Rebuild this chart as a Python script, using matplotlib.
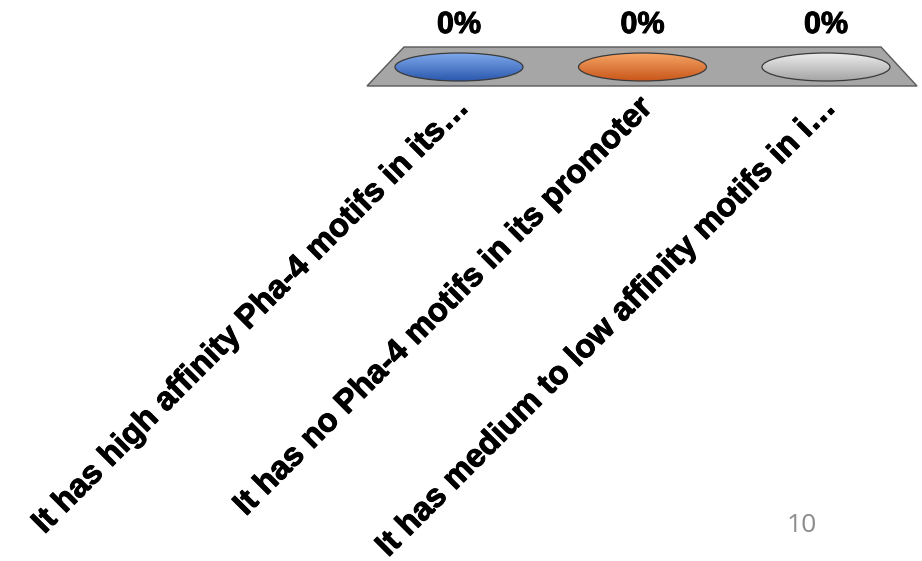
import numpy as np
import matplotlib.pyplot as plt
import matplotlib.patheffects as pe
from matplotlib.patches import Ellipse, Polygon

# data
categories = ["It has high affinity Pha-4 motifs in its\u2026",
              "It has no Pha-4 motifs in its promoter",
              "It has medium to low affinity motifs in i\u2026"]
values = [0, 0, 0]
pct_labels = ["0%", "0%", "0%"]
top_colors = ["#7ea9ec", "#f5a566", "#ececec"]
bottom_colors = ["#2c58ae", "#c9561a", "#a4a4a4"]
page_number = "10"

W, H = 922, 561
fig = plt.figure(figsize=(W / 100, H / 100), dpi=100)
ax = fig.add_axes([0, 0, 1, 1])
# category index -> pixel: 0 -> 459, 1 -> 642.5, 2 -> 826
step = 183.5
x0 = 459
ax.set_xlim(-x0 / step, (W - x0) / step)
ax.set_ylim(H, 0)
ax.axis("off")

px = lambda p: (p - x0) / step

# floor of the 3D chart
floor = Polygon([(px(367), 86), (px(917), 86), (px(881), 47), (px(404), 47)],
                closed=True, facecolor="#a6a6a6", edgecolor="#595959", lw=1.0, zorder=1)
ax.add_patch(floor)

ell_w = 128 / step
ell_h = 28
base_y = 67
heavy = [pe.withStroke(linewidth=0.7, foreground="black")]
for i, (v, tc, bc) in enumerate(zip(values, top_colors, bottom_colors)):
    yc = base_y - v
    e = Ellipse((i, yc), ell_w, ell_h, facecolor="none", edgecolor="#3a3a3a", lw=0.9, zorder=3)
    ax.add_patch(e)
    # vertical gradient inside the ellipse
    c1 = np.array(plt.matplotlib.colors.to_rgb(tc))
    c2 = np.array(plt.matplotlib.colors.to_rgb(bc))
    t = np.linspace(0, 1, 64)[:, None]
    grad = (c1 * (1 - t) + c2 * t)[:, None, :]
    im = ax.imshow(grad, extent=[i - ell_w / 2, i + ell_w / 2, yc + ell_h / 2, yc - ell_h / 2],
                   aspect="auto", zorder=2, interpolation="bilinear")
    clip = Ellipse((i, yc), ell_w, ell_h, transform=ax.transData, facecolor="none", edgecolor="none")
    ax.add_patch(clip)
    im.set_clip_path(clip)

    ax.text(i, 25, pct_labels[i], ha="center", va="center", fontsize=22,
            fontweight="bold", family="Liberation Sans", color="black", path_effects=heavy)

    ax.text(i - 6 / step, 92, categories[i], rotation=45, rotation_mode="anchor",
            ha="right", va="top", fontsize=23.5, fontweight="bold",
            family="Liberation Sans", color="black", path_effects=heavy)

ax.text(px(802), 526, page_number, ha="center", va="center", fontsize=19,
        family="Open Sans", color="#8c8c8c")

fig.savefig("out.png", dpi=100)
